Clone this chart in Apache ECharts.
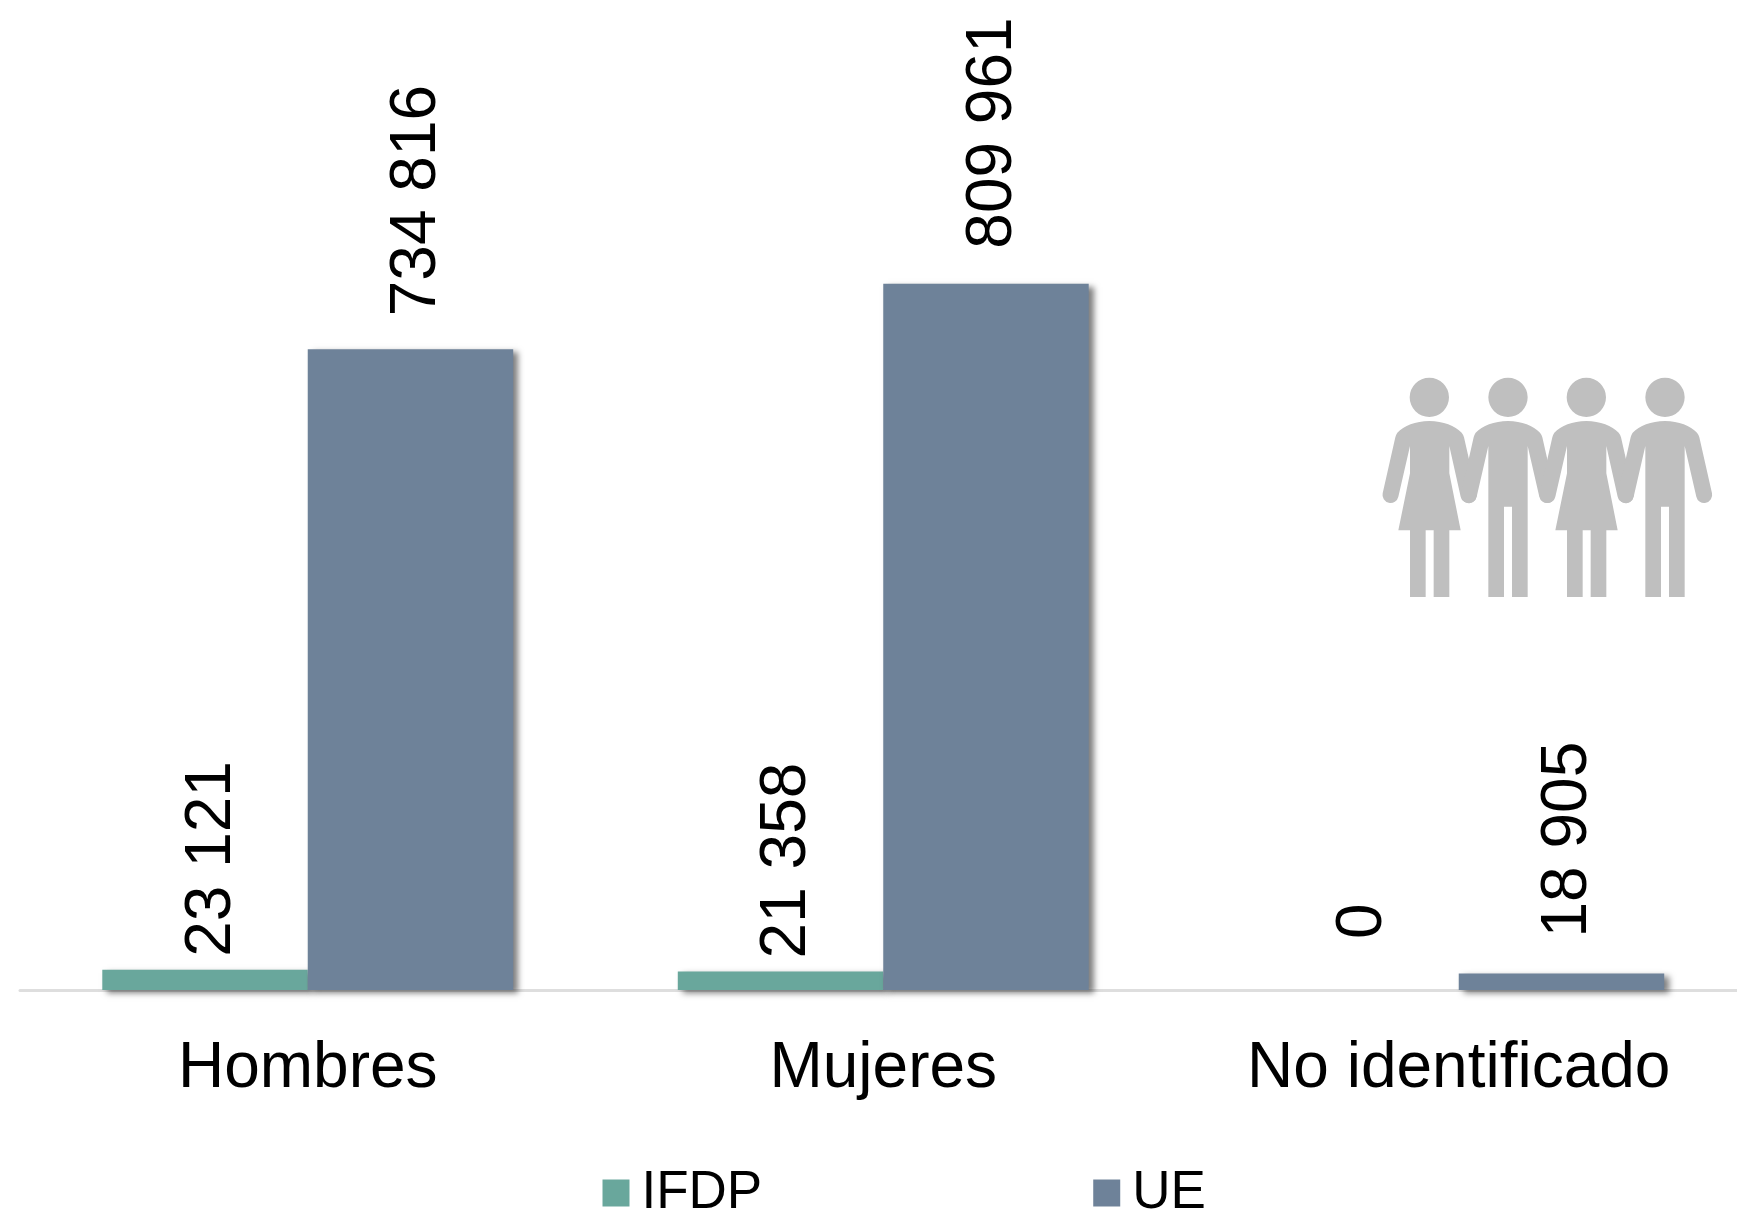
<!DOCTYPE html>
<html>
<head>
<meta charset="utf-8">
<style>html,body{margin:0;padding:0;background:#fff;overflow:hidden}#c{width:1737px;height:1211px}</style>
<script src="https://cdn.jsdelivr.net/npm/echarts@6/dist/echarts.min.js"></script>
</head>
<body>
<div id="c"></div>
<script>
const categories = ['Hombres', 'Mujeres', 'No identificado'];
const ifdpValues = [23121, 21358, 0];
const ueValues = [734816, 809961, 18905];
const ifdpLabelGaps = [13, 13, 51];
const ueLabelGaps = [33, 35, 36];

const WOMAN = 'M208 183C250 183 285 198 305 218Q310 224 312 232L350 400A24 24 0 0 1 302 410L268 258L268 340L302 511L268 511L268 711L221 711L221 511L197 511L197 711L150 711L150 511L115 511L150 340L150 258L115 410A24 24 0 0 1 68 400L106 232Q108 224 112 218C132 198 166 183 208 183ZM267 112A59 59 0 1 1 149 112A59 59 0 1 1 267 112Z';
const MAN = 'M444 183C486 183 520 198 540 218Q545 224 547 232L585 400A24 24 0 0 1 538 410L503 258L503 711L456 711L456 440L432 440L432 711L385 711L385 258L350 410A24 24 0 0 1 303 400L341 232Q343 224 347 218C367 198 402 183 444 183ZM503 112A59 59 0 1 1 385 112A59 59 0 1 1 503 112Z';

const fmt = v => String(v).replace(/\B(?=(\d{3})+(?!\d))/g, '\u00a0');
const FONT = '"Liberation Sans", Arial, sans-serif';

function makeData(values, gaps) {
  return values.map((value, i) => ({ value, label: { distance: gaps[i] } }));
}
function makeSeries(name, values, gaps, color) {
  return {
    name, type: 'bar', barGap: 0, barCategoryGap: '28.6%',
    data: makeData(values, gaps),
    itemStyle: { color, shadowColor: 'rgba(0,0,0,0.5)', shadowBlur: 6, shadowOffsetX: 5, shadowOffsetY: 3 },
    label: {
      show: true, position: 'top', rotate: 90, align: 'left', verticalAlign: 'middle',
      offset: [0, 7],
      fontFamily: FONT, fontSize: 64, color: '#000',
      formatter: p => fmt(p.value)
    }
  };
}
const icon = (d, dx) => ({
  type: 'path', x: 1360 + dx, y: 360, scaleX: 1 / 3, scaleY: 1 / 3, silent: true,
  shape: { pathData: d }, style: { fill: '#bfbfbf' }
});

const chart = echarts.init(document.getElementById('c'), null, { renderer: 'canvas' });
chart.setOption({
  animation: false,
  backgroundColor: '#fff',
  grid: { left: 20, top: 118, width: 1726.5, height: 872, containLabel: false, outerBoundsMode: 'none' },
  xAxis: {
    type: 'category', data: categories,
    axisTick: { show: false },
    axisLine: { show: true, lineStyle: { color: '#dedede', width: 3 } },
    axisLabel: { interval: 0, hideOverlap: false, fontFamily: FONT, fontSize: 64, color: '#000', margin: 47 }
  },
  yAxis: { type: 'value', min: 0, max: 1000000, show: false, splitLine: { show: false } },
  legend: {
    left: 597.5, top: 1161.5, itemWidth: 27, itemHeight: 27, itemGap: 331,
    icon: 'rect',
    textStyle: { fontFamily: FONT, fontSize: 53, color: '#000', padding: [7, 0, 0, 7] },
    data: ['IFDP', 'UE']
  },
  series: [
    makeSeries('IFDP', ifdpValues, ifdpLabelGaps, '#69a79c'),
    makeSeries('UE', ueValues, ueLabelGaps, '#6e8299'),
    {
      type: 'custom', coordinateSystem: 'none', silent: true, data: [0],
      renderItem: () => ({
        type: 'group',
        children: [icon(WOMAN, 0), icon(MAN, 0), icon(WOMAN, 157), icon(MAN, 157)]
      })
    }
  ]
});
</script>
</body>
</html>
